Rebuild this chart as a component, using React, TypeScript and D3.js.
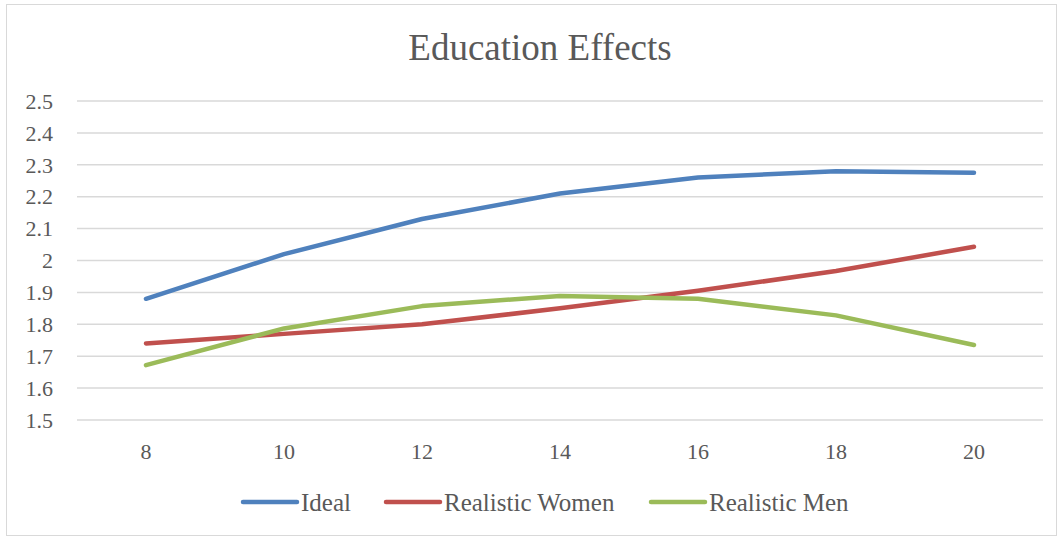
import * as d3 from 'd3';
import React, { useRef, useEffect } from 'react';

const years = [8, 10, 12, 14, 16, 18, 20];
const ideal = [1.88, 2.02, 2.13, 2.21, 2.26, 2.28, 2.275];
const realisticWomen = [1.74, 1.77, 1.80, 1.85, 1.905, 1.967, 2.043];
const realisticMen = [1.672, 1.787, 1.857, 1.889, 1.88, 1.828, 1.735];
const seriesNames = ['Ideal', 'Realistic Women', 'Realistic Men'];
const seriesColors = ['#4f81bd', '#c0504d', '#9bbb59'];
const yTicks = [1.5, 1.6, 1.7, 1.8, 1.9, 2, 2.1, 2.2, 2.3, 2.4, 2.5];

function LineChart({ width, height }) {
    const ref = useRef();

    useEffect(() => {
        const svg = d3.select(ref.current);
        svg.selectAll('*').remove();

        const font = "'Liberation Serif', 'DejaVu Serif', serif";
        const textColor = '#595959';
        const margin = { top: 101, right: 20, bottom: 119, left: 77 };

        // chart frame
        svg.append('rect')
            .attr('x', 6.5).attr('y', 4.5)
            .attr('width', width - 13).attr('height', height - 8)
            .attr('fill', '#fff')
            .attr('stroke', '#d9d9d9');

        const x = d3.scalePoint()
            .domain(years.map(String))
            .range([margin.left, width - margin.right])
            .padding(0.5);
        const y = d3.scaleLinear()
            .domain([1.5, 2.5])
            .range([height - margin.bottom, margin.top]);

        // gridlines
        svg.append('g')
            .selectAll('line')
            .data(yTicks)
            .enter().append('line')
            .attr('x1', margin.left)
            .attr('x2', width - margin.right)
            .attr('y1', d => y(d))
            .attr('y2', d => y(d))
            .attr('stroke', '#d9d9d9')
            .attr('stroke-width', 1.5);

        // y labels
        svg.append('g')
            .selectAll('text')
            .data(yTicks)
            .enter().append('text')
            .attr('x', 53)
            .attr('y', d => y(d))
            .attr('dy', '0.35em')
            .attr('text-anchor', 'end')
            .style('font-family', font)
            .style('font-size', '22px')
            .attr('fill', textColor)
            .text(d => d3.format('~g')(d));

        // x labels
        svg.append('g')
            .selectAll('text')
            .data(years)
            .enter().append('text')
            .attr('x', d => x(String(d)))
            .attr('y', height - margin.bottom + 31)
            .attr('dy', '0.35em')
            .attr('text-anchor', 'middle')
            .style('font-family', font)
            .style('font-size', '22px')
            .attr('fill', textColor)
            .text(d => d);

        // lines
        const line = d3.line()
            .x((d, i) => x(String(years[i])))
            .y(d => y(d));

        [ideal, realisticWomen, realisticMen].forEach((values, k) => {
            svg.append('path')
                .datum(values)
                .attr('d', line)
                .attr('fill', 'none')
                .attr('stroke', seriesColors[k])
                .attr('stroke-width', 4.5)
                .attr('stroke-linecap', 'round')
                .attr('stroke-linejoin', 'round');
        });

        // title
        svg.append('text')
            .attr('x', 540)
            .attr('y', 60)
            .attr('text-anchor', 'middle')
            .style('font-family', font)
            .style('font-size', '37px')
            .attr('fill', textColor)
            .text('Education Effects');

        // legend
        const legendX = [243, 386, 651];
        const legend = svg.append('g');
        seriesNames.forEach((name, k) => {
            legend.append('line')
                .attr('x1', legendX[k]).attr('x2', legendX[k] + 54)
                .attr('y1', 502).attr('y2', 502)
                .attr('stroke', seriesColors[k])
                .attr('stroke-width', 4.5)
                .attr('stroke-linecap', 'round');
            legend.append('text')
                .attr('x', legendX[k] + 58)
                .attr('y', 502)
                .attr('dy', '0.35em')
                .style('font-family', font)
                .style('font-size', '25px')
                .attr('fill', textColor)
                .text(name);
        });
    }, []);

    return (
        <svg ref={ref} width={width} height={height}
            style={{ position: 'absolute', left: 0, top: 0, display: 'block' }} />
    );
}

export default function App() {
    return <LineChart width={1063} height={539} />;
}
